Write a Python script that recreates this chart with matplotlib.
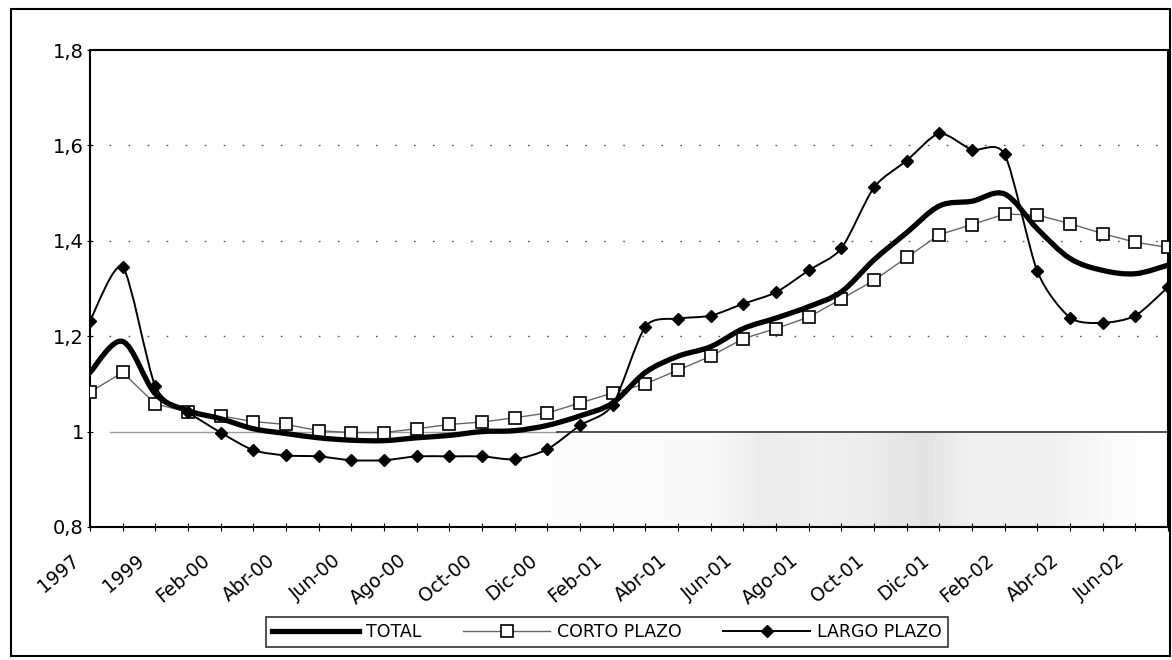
import numpy as np
import matplotlib
matplotlib.use('Agg')
import matplotlib.pyplot as plt
from matplotlib.path import Path
from matplotlib.patches import PathPatch, Rectangle
from matplotlib.lines import Line2D
from matplotlib.ticker import FixedLocator, FuncFormatter
from matplotlib.transforms import ScaledTranslation

periodos = ['1997', '1998', '1999', 'Ene-00', 'Feb-00', 'Mar-00', 'Abr-00',
            'May-00', 'Jun-00', 'Jul-00', 'Ago-00', 'Sep-00', 'Oct-00',
            'Nov-00', 'Dic-00', 'Ene-01', 'Feb-01', 'Mar-01', 'Abr-01',
            'May-01', 'Jun-01', 'Jul-01', 'Ago-01', 'Sep-01', 'Oct-01',
            'Nov-01', 'Dic-01', 'Ene-02', 'Feb-02', 'Mar-02', 'Abr-02',
            'May-02', 'Jun-02', 'Jul-02']

total = [1.124, 1.189, 1.079, 1.044, 1.027, 1.006, 0.996, 0.987, 0.982, 0.981,
         0.987, 0.992, 1.000, 1.002, 1.013, 1.033, 1.060, 1.124, 1.158, 1.178,
         1.216, 1.238, 1.262, 1.293, 1.360, 1.417, 1.473, 1.483, 1.498, 1.425,
         1.363, 1.338, 1.331, 1.349]

corto_plazo = [1.083, 1.124, 1.058, 1.041, 1.033, 1.021, 1.015, 1.002, 0.998,
               0.998, 1.006, 1.015, 1.020, 1.029, 1.039, 1.060, 1.081, 1.100,
               1.129, 1.158, 1.195, 1.216, 1.240, 1.278, 1.317, 1.365, 1.413,
               1.434, 1.456, 1.454, 1.436, 1.415, 1.397, 1.386]

largo_plazo = [1.232, 1.345, 1.095, 1.041, 0.998, 0.961, 0.950, 0.948, 0.940,
               0.940, 0.948, 0.948, 0.948, 0.942, 0.963, 1.013, 1.056, 1.220,
               1.237, 1.243, 1.268, 1.292, 1.338, 1.384, 1.512, 1.568, 1.625,
               1.591, 1.581, 1.336, 1.239, 1.228, 1.243, 1.303]

y_ticks = [0.8, 1.0, 1.2, 1.4, 1.6, 1.8]


def smooth_path(xs, ys, k=1 / 6.0):
    """Bezier path through the points, like a spreadsheet 'smoothed line'."""
    pts = np.column_stack([xs, ys]).astype(float)
    n = len(pts)
    verts = [pts[0]]
    codes = [Path.MOVETO]
    for i in range(n - 1):
        p0 = pts[max(i - 1, 0)]
        p1 = pts[i]
        p2 = pts[i + 1]
        p3 = pts[min(i + 2, n - 1)]
        verts += [p1 + (p2 - p0) * k, p2 - (p3 - p1) * k, p2]
        codes += [Path.CURVE4] * 3
    return Path(verts, codes)


fig = plt.figure(figsize=(11.72, 6.6), dpi=100)
ax = fig.add_axes([90 / 1172, 1 - 527 / 660, 1078 / 1172, 477 / 660])

x = np.arange(len(periodos))

# scanner shading under the 1.0 line
perfil_x = [0, 13, 15, 19, 20.5, 22.5, 24, 25.5, 27, 29.5, 31.5, 33]
perfil_v = [0, 0, 0.03, 0.05, 0.15, 0.13, 0.15, 0.2, 0.12, 0.12, 0.03, 0.0]
xx = np.linspace(0, 33, 400)
sombra = np.interp(xx, perfil_x, perfil_v)[None, :]
ax.imshow(sombra, extent=[0, 33, 0.8, 0.995], aspect='auto', cmap='Greys',
          vmin=0, vmax=1, zorder=0, interpolation='bilinear')

# guide lines
for g in [1.2, 1.4, 1.6]:
    ax.axhline(g, color='#555555', lw=1.0, ls=(0, (1.2, 12.5)), zorder=1)
ax.plot([0.6, 14.3], [1.0, 1.0], color='#9a9a9a', lw=1.0, zorder=1)
ax.plot([14.3, 33], [1.0, 1.0], color='#222222', lw=1.1, zorder=1)

# CORTO PLAZO: straight segments, open squares
ax.plot(x, corto_plazo, color='#666666', lw=1.0, marker='s', ms=9,
        mfc='white', mec='black', mew=1.2, zorder=3)

# LARGO PLAZO: smoothed thin line with diamonds
ax.add_patch(PathPatch(smooth_path(x, largo_plazo, 1 / 8.0), fill=False,
                       edgecolor='black', lw=1.4, zorder=4))
ax.plot(x, largo_plazo, ls='none', marker='D', ms=6.5, color='black',
        zorder=5)

# TOTAL: thick smoothed line
ax.add_patch(PathPatch(smooth_path(x, total), fill=False,
                       edgecolor='black', lw=3.8, zorder=6,
                       capstyle='round', joinstyle='round'))

ax.set_xlim(0, 33)
ax.set_ylim(0.8, 1.8)

ax.set_xticks(x)
ax.set_xticklabels([p if i % 2 == 0 else '' for i, p in enumerate(periodos)],
                   rotation=40, ha='right', va='center',
                   rotation_mode='anchor', fontsize=13.5)
ax.tick_params(axis='x', direction='inout', length=6, width=0.8, pad=0)
desplaza = ScaledTranslation(-0.13, -0.27, fig.dpi_scale_trans)
for lab in ax.get_xticklabels():
    lab.set_transform(lab.get_transform() + desplaza)

ax.yaxis.set_major_locator(FixedLocator(y_ticks))
ax.yaxis.set_major_formatter(
    FuncFormatter(lambda v, pos: ('%g' % round(v, 1)).replace('.', ',')))
ax.tick_params(axis='y', direction='inout', length=5, width=0.8, pad=2,
               labelsize=14)

for s in ax.spines.values():
    s.set_linewidth(1.5)
    s.set_color('black')

handles = [
    Line2D([], [], color='black', lw=3.8),
    Line2D([], [], color='#666666', lw=1.0, marker='s', ms=9, mfc='white',
           mec='black', mew=1.2),
    Line2D([], [], color='black', lw=1.4, marker='D', ms=6.5),
]
leg = fig.legend(handles, ['TOTAL', 'CORTO PLAZO', 'LARGO PLAZO'],
                 loc='center', bbox_to_anchor=(0.518, 0.043), ncol=3,
                 frameon=True, fancybox=False, edgecolor='black',
                 fontsize=12.5, handlelength=5.0, handletextpad=0.4,
                 columnspacing=2.4, borderpad=0.35)
leg.get_frame().set_linewidth(1.2)

# outer chart border
fig.patches.append(Rectangle((11 / 1172, 4 / 660), 1159 / 1172, 647 / 660,
                             transform=fig.transFigure, fill=False,
                             edgecolor='black', lw=1.5))

fig.savefig('out.png', dpi=100)
